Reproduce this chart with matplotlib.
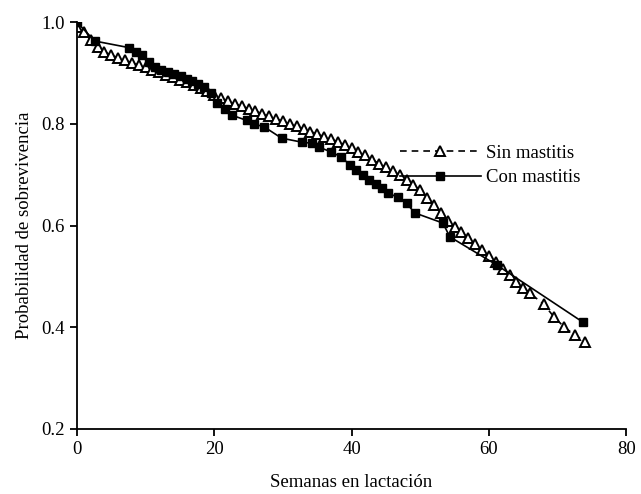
import matplotlib
matplotlib.use("Agg")
import matplotlib.pyplot as plt

# Sin mastitis (triangulos)
sem_sin = [0, 1, 2, 3, 4, 5, 6, 7, 8, 9, 10, 11, 12, 13, 14, 15, 16, 17, 18, 19,
           20, 21, 22, 23, 24, 25, 26, 27, 28, 29, 30, 31, 32, 33, 34, 35, 36, 37,
           38, 39, 40, 41, 42, 43, 44, 45, 46, 47, 48, 49, 50, 51, 52, 53, 54, 55,
           56, 57, 58, 59, 60, 61, 62, 63, 64, 65, 66, 68, 69.5, 71, 72.5, 74]
prob_sin = [0.99, 0.98, 0.965, 0.952, 0.942, 0.935, 0.93, 0.925, 0.92, 0.916,
            0.912, 0.907, 0.902, 0.897, 0.892, 0.887, 0.882, 0.877, 0.871, 0.864,
            0.856, 0.85, 0.845, 0.84, 0.835, 0.83, 0.825, 0.82, 0.815, 0.81,
            0.805, 0.80, 0.795, 0.79, 0.785, 0.78, 0.775, 0.77, 0.765, 0.759,
            0.752, 0.745, 0.738, 0.73, 0.722, 0.715, 0.707, 0.70, 0.69, 0.68,
            0.67, 0.655, 0.64, 0.625, 0.61, 0.598, 0.588, 0.575, 0.563, 0.552,
            0.54, 0.528, 0.515, 0.502, 0.49, 0.478, 0.467, 0.445, 0.42, 0.40,
            0.385, 0.372]

# Con mastitis (cuadrados)
sem_con = [0, 2.6, 7.6, 8.6, 9.5, 10.5, 11.4, 12.3, 13.2, 14.2, 15.1, 16.0, 16.8,
           17.6, 18.5, 19.5, 20.4, 21.5, 22.6, 24.7, 25.8, 27.3, 29.8, 32.8, 34.2,
           35.3, 37.0, 38.5, 39.7, 40.7, 41.6, 42.6, 43.5, 44.4, 45.3, 46.7, 48.0,
           49.2, 53.3, 54.3, 61.2, 73.7]
prob_con = [1.0, 0.963, 0.95, 0.942, 0.935, 0.922, 0.912, 0.907, 0.903, 0.899,
            0.894, 0.889, 0.885, 0.879, 0.872, 0.86, 0.842, 0.83, 0.817, 0.807,
            0.80, 0.794, 0.772, 0.764, 0.762, 0.754, 0.745, 0.735, 0.72, 0.71,
            0.70, 0.69, 0.682, 0.674, 0.664, 0.656, 0.644, 0.625, 0.605, 0.578,
            0.522, 0.41]

plt.rcParams['font.family'] = ['Liberation Serif', 'DejaVu Serif']

fig = plt.figure(figsize=(6.41, 4.94), dpi=100)
ax = fig.add_axes([0.120, 0.1316, 0.857, 0.8234])

ax.plot(sem_sin, prob_sin, color='black', lw=1.2, ls=(0, (4, 3)), marker='^',
        mfc='white', mec='black', ms=7, mew=1.4, label='Sin mastitis')
ax.plot(sem_con, prob_con, '-', color='black', lw=1.2, marker='s',
        mfc='black', mec='black', ms=5.5, label='Con mastitis')

ax.set_xlim(0, 80)
ax.set_ylim(0.2, 1.0)
ax.set_xticks([0, 20, 40, 60, 80])
ax.set_yticks([0.2, 0.4, 0.6, 0.8, 1.0])
ax.set_yticklabels(['0.2', '0.4', '0.6', '0.8', '1.0'])
ax.spines['top'].set_visible(False)
ax.spines['right'].set_visible(False)
ax.spines['left'].set_linewidth(1.3)
ax.spines['bottom'].set_linewidth(1.3)
ax.tick_params(direction='out', length=5, width=1.3, labelsize=13.5)
ax.set_xlabel('Semanas en lactación', fontsize=13.5, labelpad=12)
ax.set_ylabel('Probabilidad de sobrevivencia', fontsize=13.5, labelpad=6)

ax.legend(loc='center left', bbox_to_anchor=(0.588, 0.648), frameon=False,
          fontsize=13.5, handlelength=4.3, borderpad=0, borderaxespad=0,
          handletextpad=0.3, labelspacing=0.4)

fig.savefig('out.png', dpi=100)
